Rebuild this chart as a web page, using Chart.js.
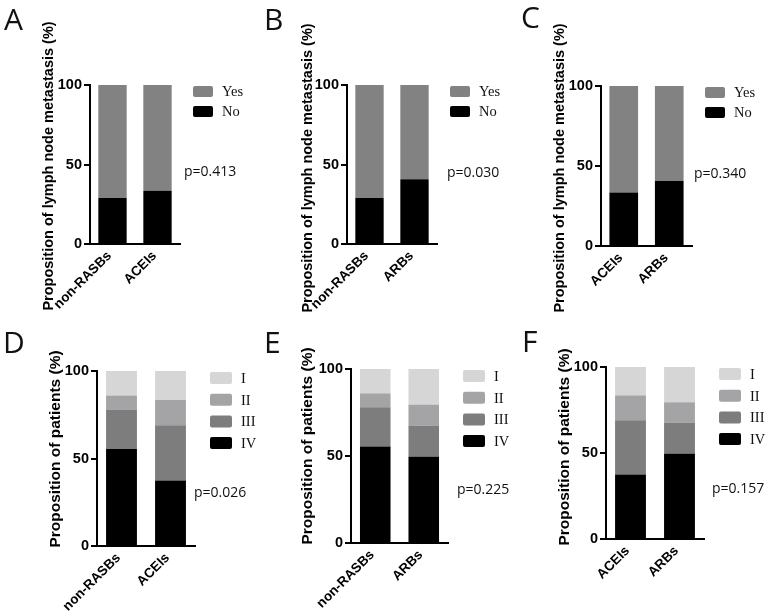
<!DOCTYPE html>
<html>
<head>
<meta charset="utf-8">
<script src="https://cdn.jsdelivr.net/npm/chart.js@4.4.1/dist/chart.umd.min.js"></script>
<style>
  body { margin: 0; background: #fff; }
  #fig { position: relative; width: 768px; height: 615px; overflow: hidden; }
  #fig canvas { position: absolute; left: 0; top: 0; }
  .tag { position: absolute; font-family: "Open Sans", sans-serif; font-size: 30px; line-height: 30px; color: #111; }
  .pval { position: absolute; font-family: "Open Sans", sans-serif; font-size: 14px; line-height: 20px; color: #111; }
</style>
</head>
<body>
<div id="fig">
  <canvas id="cA" width="768" height="615"></canvas>
  <canvas id="cB" width="768" height="615"></canvas>
  <canvas id="cC" width="768" height="615"></canvas>
  <canvas id="cD" width="768" height="615"></canvas>
  <canvas id="cE" width="768" height="615"></canvas>
  <canvas id="cF" width="768" height="615"></canvas>

  <div class="tag" style="left:4px; top:4px;">A</div>
  <div class="tag" style="left:264px; top:4px;">B</div>
  <div class="tag" style="left:521px; top:2px;">C</div>
  <div class="tag" style="left:3px; top:327px;">D</div>
  <div class="tag" style="left:264px; top:327px;">E</div>
  <div class="tag" style="left:522px; top:326px;">F</div>

  <div class="pval" id="pA" style="left:184px; top:161px;"></div>
  <div class="pval" id="pB" style="left:447px; top:162px;"></div>
  <div class="pval" id="pC" style="left:694px; top:163px;"></div>
  <div class="pval" id="pD" style="left:194px; top:482px;"></div>
  <div class="pval" id="pE" style="left:457px; top:479px;"></div>
  <div class="pval" id="pF" style="left:712px; top:478px;"></div>
</div>
<script>
// ---- data (percent of patients) ----
const lnmSeries = ['No', 'Yes'];              // lymph node metastasis
const lnmColors = ['#000000', '#828282'];
const lnmNonRasbs = [29, 71];
const lnmAceis = [33.5, 66.5];
const lnmArbs = [40.7, 59.3];

const stageSeries = ['IV', 'III', 'II', 'I'];  // TNM stage
const stageColors = ['#000000', '#7d7d7d', '#a4a4a7', '#d6d6d6'];
const stageNonRasbs = [55.5, 22.5, 8, 14];
const stageAceis = [37.5, 31.5, 14.5, 16.5];
const stageArbs = [49.5, 18, 12, 20.5];

const yTicks = [0, 50, 100];
const lnmTitle = 'Proposition of lymph node metastasis (%)';
const stageTitle = 'Proposition of patients (%)';
const pValues = ['0.413', '0.030', '0.340', '0.026', '0.225', '0.157'];

const W = 768, H = 615;
const axisFont = 'Liberation Sans, Arial, sans-serif';

// legend to the right of each plot (top dataset first) + rotated y title
const sideLegend = {
  id: 'sideLegend',
  afterDraw(chart, args, opts) {
    const ctx = chart.ctx;
    const area = chart.chartArea;
    const sets = chart.data.datasets.slice().reverse();
    ctx.save();
    ctx.font = '14.5px "Liberation Serif", "Times New Roman", serif';
    ctx.textBaseline = 'middle';
    sets.forEach((ds, i) => {
      const x = area.right + opts.dx;
      const y = area.top + opts.dy + i * opts.pitch;
      ctx.fillStyle = ds.backgroundColor;
      ctx.beginPath();
      ctx.roundRect(x, y, opts.w, opts.h, 2);
      ctx.fill();
      ctx.fillStyle = '#111';
      ctx.fillText(ds.label, x + opts.w + 9, y + opts.h / 2 + 1);
    });

    // y axis title, centred where the original puts it
    const t = opts.title;
    ctx.translate(t.x, t.y);
    ctx.rotate(-Math.PI / 2);
    ctx.font = 'bold ' + t.size + 'px ' + axisFont;
    ctx.fillStyle = '#000';
    ctx.textAlign = 'center';
    ctx.textBaseline = 'middle';
    ctx.fillText(t.text, 0, 0);
    ctx.restore();
  }
};

function makePanel(id, p) {
  const datasets = p.series.map((name, i) => ({
    label: name,
    data: p.rows.map(r => r[i]),
    backgroundColor: p.colors[i],
    borderWidth: 0,
    barPercentage: 1,
    categoryPercentage: 0.63
  }));
  new Chart(document.getElementById(id), {
    type: 'bar',
    data: { labels: p.groups, datasets: datasets },
    options: {
      responsive: false,
      animation: false,
      devicePixelRatio: 1,
      layout: { padding: { left: 0, top: p.box.t, right: W - p.box.r, bottom: 0 } },
      plugins: {
        legend: { display: false },
        tooltip: { enabled: false },
        sideLegend: Object.assign({ title: p.title }, p.legend)
      },
      scales: {
        x: {
          stacked: true,
          afterFit: s => { s.height = H - p.box.b; },
          grid: { display: false, drawTicks: false },
          border: { display: true, color: '#000', width: 2 },
          ticks: {
            color: '#000',
            font: { family: axisFont, weight: 'bold', size: 13.5 },
            minRotation: 45, maxRotation: 45, padding: 4, labelOffset: -3
          }
        },
        y: {
          stacked: true,
          min: 0, max: 100,
          afterFit: s => { s.width = p.box.l; },
          afterBuildTicks: s => { s.ticks = yTicks.map(v => ({ value: v })); },
          grid: { drawOnChartArea: false, color: '#000', lineWidth: 2, tickLength: 6 },
          border: { color: '#000', width: 2 },
          ticks: {
            color: '#000',
            font: { family: axisFont, weight: 'bold', size: 14.5 },
            padding: 2
          }
        }
      }
    },
    plugins: [sideLegend]
  });
}

const lnmLegend = { dx: 13, dy: 1, w: 20, h: 11, pitch: 20 };
const stageLegend = { dx: 15, dy: 1, w: 22, h: 12, pitch: 21.7 };

makePanel('cA', { groups: ['non-RASBs', 'ACEIs'], rows: [lnmNonRasbs, lnmAceis], series: lnmSeries, colors: lnmColors,
  title: { text: lnmTitle, size: 14.5, x: 49, y: 166 }, box: { l: 90, t: 85, r: 180, b: 244 }, legend: lnmLegend });
makePanel('cB', { groups: ['non-RASBs', 'ARBs'], rows: [lnmNonRasbs, lnmArbs], series: lnmSeries, colors: lnmColors,
  title: { text: lnmTitle, size: 14.5, x: 308, y: 168 }, box: { l: 347, t: 85, r: 437, b: 244 }, legend: lnmLegend });
makePanel('cC', { groups: ['ACEIs', 'ARBs'], rows: [lnmAceis, lnmArbs], series: lnmSeries, colors: lnmColors,
  title: { text: lnmTitle, size: 14.5, x: 560, y: 168 }, box: { l: 601, t: 86, r: 692, b: 246 }, legend: lnmLegend });
makePanel('cD', { groups: ['non-RASBs', 'ACEIs'], rows: [stageNonRasbs, stageAceis], series: stageSeries, colors: stageColors,
  title: { text: stageTitle, size: 15.5, x: 56, y: 449 }, box: { l: 97, t: 371, r: 195, b: 546 }, legend: stageLegend });
makePanel('cE', { groups: ['non-RASBs', 'ARBs'], rows: [stageNonRasbs, stageArbs], series: stageSeries, colors: stageColors,
  title: { text: stageTitle, size: 15.5, x: 308, y: 446 }, box: { l: 351, t: 369, r: 448, b: 543 }, legend: stageLegend });
makePanel('cF', { groups: ['ACEIs', 'ARBs'], rows: [stageAceis, stageArbs], series: stageSeries, colors: stageColors,
  title: { text: stageTitle, size: 15.5, x: 565, y: 447 }, box: { l: 606, t: 367, r: 704, b: 539 }, legend: stageLegend });

['pA', 'pB', 'pC', 'pD', 'pE', 'pF'].forEach((id, i) => {
  document.getElementById(id).textContent = 'p=' + pValues[i];
});
</script>
</body>
</html>
